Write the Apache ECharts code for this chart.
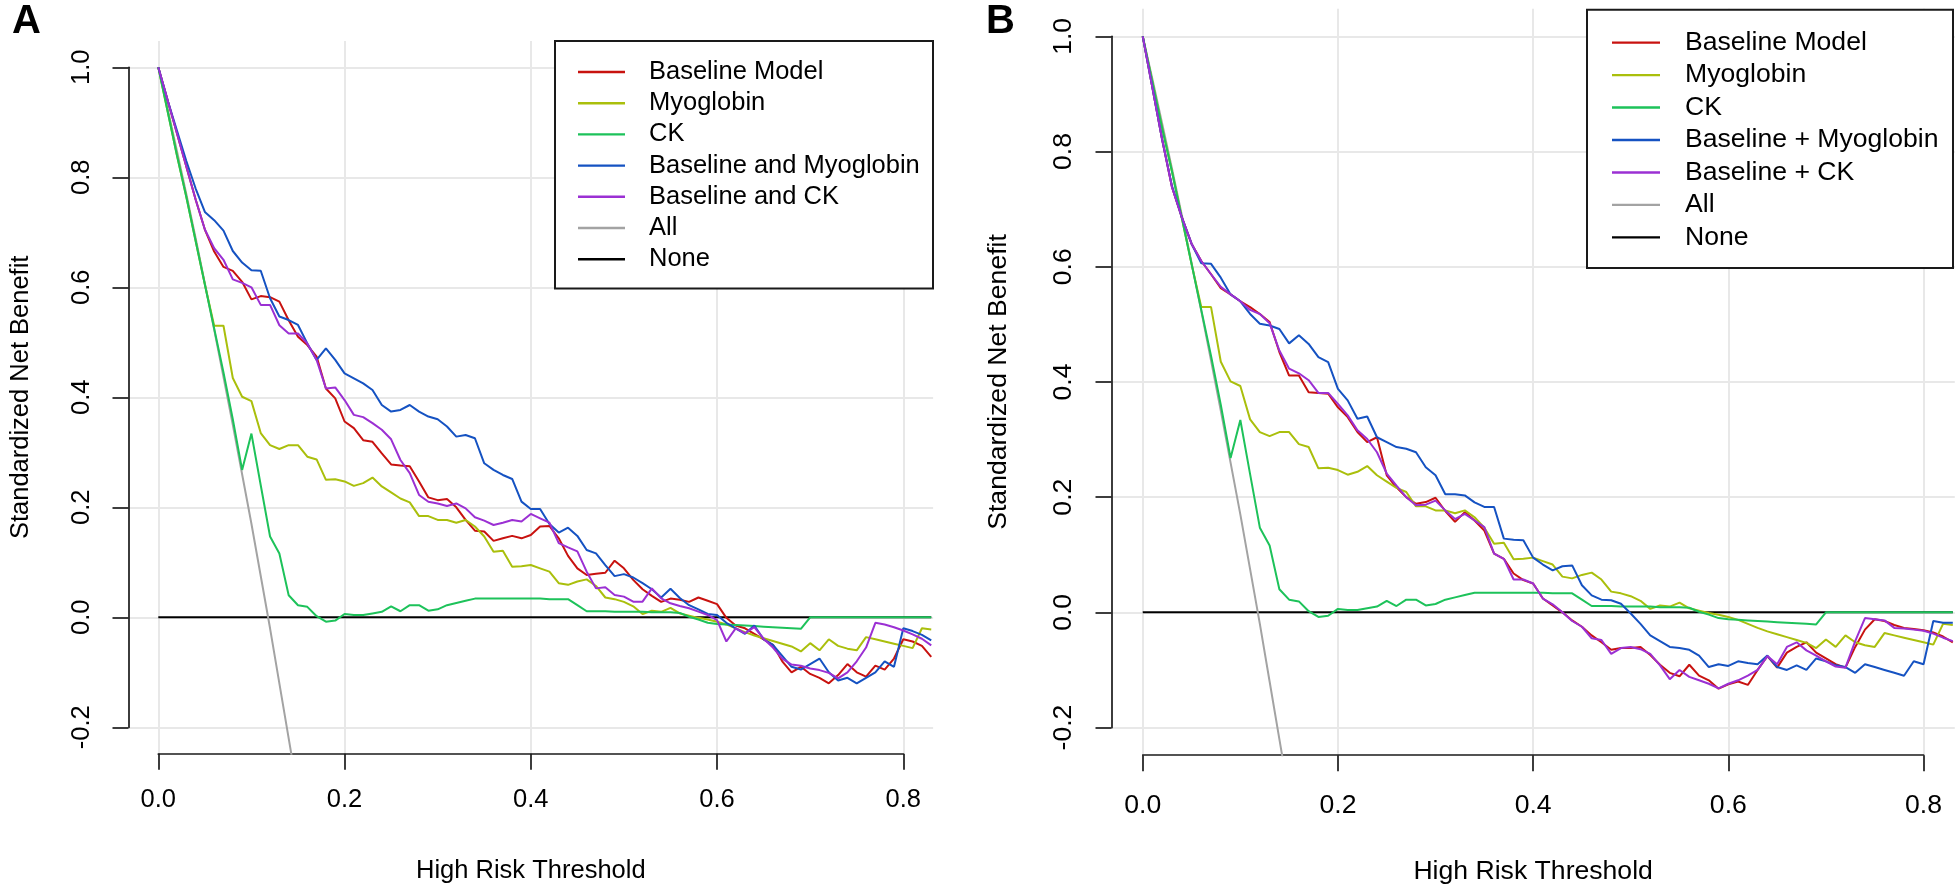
<!DOCTYPE html>
<html><head><meta charset="utf-8">
<script src="https://cdn.jsdelivr.net/npm/echarts@6/dist/echarts.min.js"></script>
<style>html,body{margin:0;padding:0;background:#fff}#c{width:1958px;height:888px}</style>
</head><body><div id="c"></div>
<script>
// ---------------- DATA ----------------
const thresholds = [0.00,0.01,0.02,0.03,0.04,0.05,0.06,0.07,0.08,0.09,
  0.10,0.11,0.12,0.13,0.14,0.15,0.16,0.17,0.18,0.19,
  0.20,0.21,0.22,0.23,0.24,0.25,0.26,0.27,0.28,0.29,
  0.30,0.31,0.32,0.33,0.34,0.35,0.36,0.37,0.38,0.39,
  0.40,0.41,0.42,0.43,0.44,0.45,0.46,0.47,0.48,0.49,
  0.50,0.51,0.52,0.53,0.54,0.55,0.56,0.57,0.58,0.59,
  0.60,0.61,0.62,0.63,0.64,0.65,0.66,0.67,0.68,0.69,
  0.70,0.71,0.72,0.73,0.74,0.75,0.76,0.77,0.78,0.79,
  0.80,0.81,0.82,0.83];

const allThresholds = [0.00,0.01,0.02,0.03,0.04,0.05,0.06,0.07,0.08,0.09,0.10,0.11,0.12,0.13,0.14,0.15];
const allValues = [1.0,0.925,0.848,0.77,0.69,0.607,0.523,0.437,0.35,0.26,0.17,0.075,-0.02,-0.12,-0.22,-0.32];

const noneThresholds = [0.0, 0.83];
const noneValues = [0, 0];

const myoglobin = [1.0,0.92,0.84,0.765,0.685,0.605,0.53,0.53,0.435,0.401,
  0.393,0.335,0.313,0.306,0.313,0.313,0.292,0.287,0.250,0.251,
  0.247,0.239,0.244,0.254,0.238,0.227,0.216,0.209,0.184,0.184,
  0.177,0.177,0.172,0.177,0.165,0.147,0.119,0.121,0.092,0.093,
  0.095,0.089,0.083,0.062,0.059,0.065,0.069,0.057,0.036,0.033,
  0.028,0.020,0.006,0.012,0.010,0.017,0.007,0.003,-0.001,-0.004,
  -0.008,-0.013,-0.020,-0.027,-0.033,-0.038,-0.043,-0.048,-0.053,-0.062,
  -0.047,-0.060,-0.040,-0.052,-0.057,-0.060,-0.036,-0.040,-0.044,-0.048,
  -0.052,-0.056,-0.020,-0.022];

const ck = [1.0,0.92,0.84,0.765,0.685,0.605,0.525,0.445,0.36,0.268,
  0.334,0.24,0.147,0.116,0.040,0.022,0.019,0.002,-0.008,-0.006,
  0.006,0.004,0.004,0.007,0.010,0.020,0.011,0.022,0.022,0.012,
  0.0145,0.022,0.026,0.030,0.034,0.034,0.034,0.034,0.034,0.034,
  0.034,0.034,0.033,0.033,0.033,0.022,0.011,0.011,0.011,0.010,
  0.010,0.010,0.010,0.009,0.009,0.009,0.008,0.001,-0.004,-0.010,
  -0.012,-0.013,-0.014,-0.015,-0.016,-0.017,-0.018,-0.019,-0.020,-0.021,
  0,0,0,0,0,0,0,0,0,0,
  0,0,0,0];

// Panel A
const baselineA = [1.0,0.94,0.88,0.82,0.76,0.705,0.665,0.637,0.630,0.610,
  0.578,0.584,0.582,0.574,0.540,0.510,0.495,0.474,0.416,0.398,
  0.356,0.344,0.322,0.319,0.298,0.278,0.276,0.2745,0.247,0.218,
  0.213,0.215,0.200,0.177,0.1575,0.156,0.139,0.1436,0.148,0.1436,
  0.1496,0.165,0.166,0.1436,0.1117,0.089,0.077,0.079,0.081,0.103,
  0.089,0.068,0.051,0.039,0.028,0.034,0.032,0.028,0.036,0.030,
  0.024,-0.001,-0.015,-0.020,-0.030,-0.040,-0.050,-0.080,-0.100,-0.090,
  -0.103,-0.110,-0.120,-0.105,-0.085,-0.100,-0.108,-0.088,-0.095,-0.075,
  -0.040,-0.044,-0.052,-0.072];

const baseMyoA = [1.0,0.94,0.885,0.83,0.78,0.737,0.722,0.703,0.666,0.645,
  0.631,0.630,0.580,0.547,0.5405,0.5315,0.498,0.468,0.489,0.468,
  0.4436,0.4345,0.4254,0.4133,0.386,0.374,0.377,0.386,0.374,0.365,
  0.360,0.347,0.3285,0.3315,0.3255,0.280,0.268,0.2588,0.2515,0.2103,
  0.197,0.197,0.1697,0.154,0.163,0.148,0.1224,0.1163,0.095,0.0749,
  0.0785,0.0724,0.062,0.051,0.036,0.052,0.035,0.022,0.0145,0.006,
  0.004,-0.010,-0.020,-0.030,-0.015,-0.040,-0.050,-0.070,-0.090,-0.095,
  -0.085,-0.075,-0.100,-0.115,-0.110,-0.120,-0.110,-0.100,-0.080,-0.090,
  -0.020,-0.025,-0.032,-0.042];

const baseCkA = [1.0,0.94,0.88,0.82,0.76,0.705,0.671,0.650,0.6145,0.608,
  0.600,0.568,0.568,0.531,0.516,0.516,0.498,0.468,0.416,0.418,
  0.395,0.368,0.364,0.353,0.341,0.3236,0.286,0.262,0.2224,0.210,
  0.207,0.2023,0.207,0.198,0.1818,0.1757,0.1678,0.172,0.177,0.174,
  0.188,0.180,0.172,0.135,0.127,0.120,0.083,0.0526,0.0545,0.0406,
  0.0376,0.0285,0.0285,0.0526,0.0345,0.0255,0.0206,0.0164,0.0103,0.0042,
  -0.005,-0.044,-0.020,-0.029,-0.018,-0.039,-0.055,-0.075,-0.086,-0.088,
  -0.093,-0.096,-0.101,-0.111,-0.100,-0.080,-0.055,-0.010,-0.013,-0.018,
  -0.024,-0.031,-0.039,-0.051];

// Panel B
const baselineB = [1.0,0.91,0.82,0.738,0.686,0.640,0.610,0.587,0.563,0.552,
  0.540,0.530,0.518,0.504,0.452,0.411,0.411,0.382,0.381,0.3795,
  0.356,0.339,0.313,0.2955,0.304,0.238,0.217,0.200,0.1885,0.1914,
  0.199,0.176,0.157,0.174,0.1595,0.142,0.102,0.093,0.0675,0.056,
  0.050,0.024,0.012,0.000,-0.014,-0.025,-0.040,-0.052,-0.065,-0.062,
  -0.062,-0.060,-0.074,-0.091,-0.105,-0.111,-0.091,-0.110,-0.118,-0.1325,
  -0.125,-0.120,-0.126,-0.100,-0.076,-0.096,-0.070,-0.060,-0.052,-0.070,
  -0.080,-0.090,-0.096,-0.060,-0.030,-0.012,-0.015,-0.022,-0.027,-0.029,
  -0.031,-0.035,-0.042,-0.052];

const baseMyoB = [1.0,0.91,0.82,0.74,0.686,0.640,0.606,0.605,0.581,0.552,
  0.540,0.518,0.501,0.498,0.492,0.467,0.481,0.466,0.443,0.4345,
  0.388,0.368,0.336,0.340,0.304,0.2955,0.287,0.284,0.278,0.252,
  0.238,0.205,0.205,0.203,0.191,0.183,0.183,0.128,0.126,0.125,
  0.095,0.083,0.073,0.080,0.0815,0.047,0.0295,0.022,0.021,0.015,
  -0.002,-0.020,-0.040,-0.050,-0.060,-0.062,-0.065,-0.075,-0.095,-0.090,
  -0.093,-0.085,-0.088,-0.090,-0.075,-0.095,-0.100,-0.092,-0.100,-0.080,
  -0.085,-0.092,-0.095,-0.105,-0.090,-0.095,-0.100,-0.105,-0.110,-0.085,
  -0.090,-0.015,-0.018,-0.018];

const baseCkB = [1.0,0.91,0.82,0.738,0.686,0.640,0.610,0.587,0.565,0.552,
  0.540,0.525,0.518,0.502,0.4545,0.423,0.415,0.403,0.381,0.381,
  0.362,0.342,0.316,0.301,0.278,0.241,0.220,0.200,0.186,0.187,
  0.194,0.177,0.162,0.171,0.1595,0.148,0.102,0.093,0.057,0.057,
  0.050,0.024,0.014,0.000,-0.015,-0.025,-0.045,-0.048,-0.072,-0.062,
  -0.060,-0.064,-0.072,-0.092,-0.116,-0.100,-0.112,-0.118,-0.124,-0.132,
  -0.124,-0.118,-0.110,-0.100,-0.076,-0.090,-0.060,-0.052,-0.066,-0.075,
  -0.085,-0.094,-0.096,-0.050,-0.010,-0.012,-0.014,-0.027,-0.028,-0.030,
  -0.032,-0.037,-0.044,-0.050];

const legendNamesA = ['Baseline Model','Myoglobin','CK','Baseline and Myoglobin','Baseline and CK','All','None'];
const legendNamesB = ['Baseline Model','Myoglobin','CK','Baseline + Myoglobin','Baseline + CK','All','None'];
const xAxisTitle = 'High Risk Threshold';
const yAxisTitle = 'Standardized Net Benefit';
const panelLetters = ['A','B'];

// ---------------- STYLE / LAYOUT ----------------
const COLORS = {
  baseline: '#C8120F', myo: '#AABF0C', ck: '#1DC25A',
  bmyo: '#1552C2', bck: '#9B30D3', all: '#A3A3A3', none: '#000000'
};
const FONT = 'Liberation Sans, Arial, Helvetica, sans-serif';

const layouts = [
  { plotL:128.5, plotT:40.9, xPer:931.25, yPer:550, fs:25.5,
    legL:578, legT:56.4, rowH:31.2, iconW:47, textPad:19,
    boxL:555, boxT:41, boxR:933, boxB:288.5,
    xLabM:33, yLabM:34, xNameGap:104, yNameGap:95, letterX:12 },
  { plotL:1111.5, plotT:8.7, xPer:976, yPer:576, fs:26.6,
    legL:1612, legT:26.4, rowH:32.45, iconW:48, textPad:20,
    boxL:1587, boxT:9.7, boxR:1953, boxB:268,
    xLabM:37, yLabM:34, xNameGap:103, yNameGap:99, letterX:986 }
];

const panelSeries = [
  [ ['Baseline Model', baselineA, COLORS.baseline], ['Myoglobin', myoglobin, COLORS.myo], ['CK', ck, COLORS.ck],
    ['Baseline and Myoglobin', baseMyoA, COLORS.bmyo], ['Baseline and CK', baseCkA, COLORS.bck] ],
  [ ['Baseline Model', baselineB, COLORS.baseline], ['Myoglobin', myoglobin, COLORS.myo], ['CK', ck, COLORS.ck],
    ['Baseline + Myoglobin', baseMyoB, COLORS.bmyo], ['Baseline + CK', baseCkB, COLORS.bck] ]
];
const panelLegends = [legendNamesA, legendNamesB];

function pairs(xs, ys) { return ys.map((y, i) => [xs[i], y]); }
function fmt(v) { return Math.abs(v) < 1e-9 ? '0.0' : v.toFixed(1); }

const option = {
  animation: false,
  backgroundColor: '#ffffff',
  textStyle: { fontFamily: FONT },
  title: [], grid: [], xAxis: [], yAxis: [], series: [], legend: [], graphic: []
};

const axisLineStyle = { color: '#1a1a1a', width: 1.7 };
const splitStyle = { color: '#e8e8e8', width: 2 };

layouts.forEach((L, k) => {
  const b = k * 3;
  const dataW = 0.864 * L.xPer, dataH = 1.296 * L.yPer;
  const x0 = L.plotL + 0.032 * L.xPer;
  const y1 = L.plotT + 0.048 * L.yPer;
  const gridCommon = { containLabel: false, outerBoundsMode: 'none' };
  // data grid
  option.grid.push(Object.assign({ left: L.plotL, top: L.plotT, width: dataW, height: dataH }, gridCommon));
  // x visual grid
  option.grid.push(Object.assign({ left: x0, top: L.plotT, width: 0.8 * L.xPer, height: dataH }, gridCommon));
  // y visual grid
  option.grid.push(Object.assign({ left: L.plotL, top: y1, width: dataW, height: 1.2 * L.yPer }, gridCommon));

  option.xAxis.push({ gridIndex: b, type: 'value', min: -0.032, max: 0.832, show: false });
  option.yAxis.push({ gridIndex: b, type: 'value', min: -0.248, max: 1.048, show: false });

  option.xAxis.push({
    gridIndex: b + 1, type: 'value', min: 0, max: 0.8, interval: 0.2, position: 'bottom',
    axisLine: { show: true, lineStyle: axisLineStyle },
    axisTick: { show: true, inside: false, length: 16, lineStyle: axisLineStyle },
    axisLabel: { show: true, margin: L.xLabM, fontSize: L.fs, color: '#000', fontFamily: FONT, formatter: fmt },
    splitLine: { show: true, lineStyle: splitStyle },
    name: xAxisTitle, nameLocation: 'middle', nameGap: L.xNameGap,
    nameTextStyle: { fontSize: L.fs, color: '#000', fontFamily: FONT }
  });
  option.yAxis.push({ gridIndex: b + 1, type: 'value', min: 0, max: 1, show: false });

  option.xAxis.push({ gridIndex: b + 2, type: 'value', min: 0, max: 1, show: false });
  option.yAxis.push({
    gridIndex: b + 2, type: 'value', min: -0.2, max: 1.0, interval: 0.2, position: 'left',
    axisLine: { show: true, lineStyle: axisLineStyle },
    axisTick: { show: true, inside: false, length: 16, lineStyle: axisLineStyle },
    axisLabel: { show: true, rotate: 90, margin: L.yLabM, fontSize: L.fs, color: '#000', fontFamily: FONT, formatter: fmt },
    splitLine: { show: true, lineStyle: splitStyle },
    name: yAxisTitle, nameLocation: 'middle', nameGap: L.yNameGap, nameRotate: 90,
    nameTextStyle: { fontSize: L.fs, color: '#000', fontFamily: FONT }
  });

  const common = { type: 'line', xAxisIndex: b, yAxisIndex: b, symbol: 'none', showSymbol: false,
                   silent: true, clip: true };
  option.series.push(Object.assign({ name: 'None', data: pairs(noneThresholds, noneValues), color: COLORS.none,
    lineStyle: { width: 2, color: COLORS.none }, z: 2 }, common));
  option.series.push(Object.assign({ name: 'All', data: pairs(allThresholds, allValues), color: COLORS.all,
    lineStyle: { width: 2, color: COLORS.all }, z: 2 }, common));
  panelSeries[k].forEach(([name, vals, col], i) => {
    option.series.push(Object.assign({ name, data: pairs(thresholds, vals), color: col,
      lineStyle: { width: 2, color: col }, z: 3 + i }, common));
  });

  option.legend.push({
    data: panelLegends[k], orient: 'vertical', left: L.legL, top: L.legT, padding: 0,
    itemWidth: L.iconW, itemHeight: 2.4, itemGap: 0, icon: 'rect', selectedMode: false, z: 20,
    formatter: n => '{s|}' + n,
    textStyle: { fontSize: L.fs, color: '#000', fontFamily: FONT, lineHeight: L.rowH,
                 rich: { s: { width: L.textPad, lineHeight: L.rowH } } }
  });

  option.graphic.push({
    type: 'rect', z: 10, silent: true,
    shape: { x: L.boxL, y: L.boxT, width: L.boxR - L.boxL, height: L.boxB - L.boxT },
    style: { fill: '#ffffff', stroke: '#1a1a1a', lineWidth: 2 }
  });

  option.title.push({ text: panelLetters[k], left: L.letterX, top: 2, padding: 0,
    textStyle: { fontSize: 40, fontWeight: 'bold', color: '#000', fontFamily: FONT } });
});

const chart = echarts.init(document.getElementById('c'), null, { renderer: 'canvas', width: 1958, height: 888 });
chart.setOption(option);
</script>
</body></html>
